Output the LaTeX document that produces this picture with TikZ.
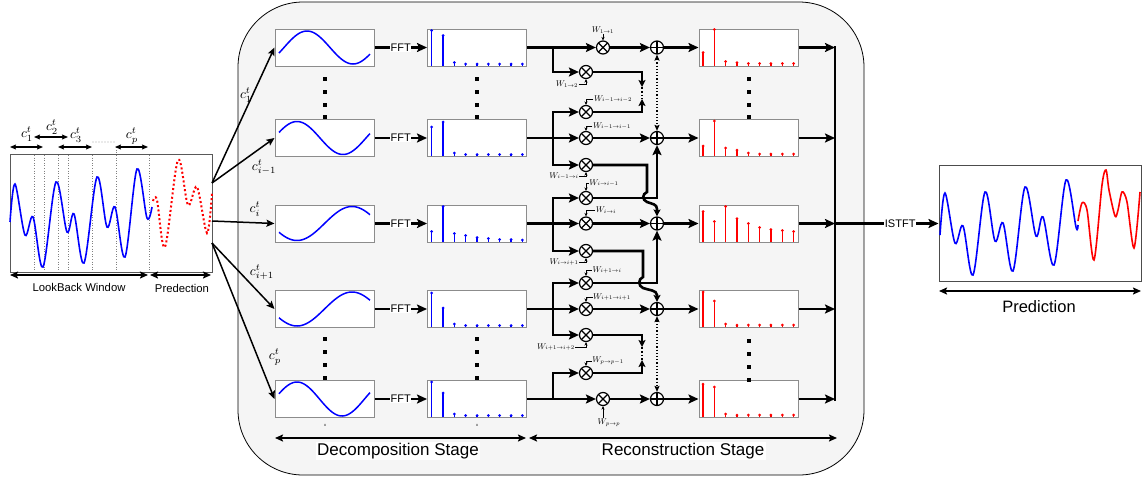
\documentclass[tikz,border=0pt]{standalone}
\usepackage{fontspec}
\setmainfont{Liberation Sans}
\usetikzlibrary{arrows.meta,calc}
\definecolor{bgc}{RGB}{245,245,245}
\definecolor{bxc}{RGB}{140,140,140}
\newcommand{\drawstems}[4]{\foreach \h [count=\k from 0] in {#4}{\draw[#1,line width=1.3pt] ({#2+11.33*\k},#3) -- ({#2+11.33*\k},{#3-\h}); \fill[#1] ({#2+11.33*\k},{#3-\h}) circle[radius=1.5pt];}}
\newcommand{\vdotcol}[2]{\foreach \yy in {#2}{\fill ({#1-1.6},{\yy-1.6}) rectangle ({#1+1.6},{\yy+1.6});}}
\begin{document}
\begin{tikzpicture}[x=1pt,y=-1pt,
  thk/.style={line width=2.6pt},
  thn/.style={line width=1.5pt},
  tip/.style={-{Stealth[length=10pt,width=9pt,inset=2pt]}},
  tips/.style={-{Stealth[length=7pt,width=7pt,inset=1.5pt]}},
  tipn/.style={-{Stealth[length=8pt,width=7pt,inset=1.5pt]}},
  dbl/.style={{Stealth[length=8pt,width=7pt,inset=1.5pt]}-{Stealth[length=8pt,width=7pt,inset=1.5pt]}},
  dbls/.style={{Stealth[length=6pt,width=5pt,inset=1pt]}-{Stealth[length=6pt,width=5pt,inset=1pt]}},
  wtip/.style={line width=0.7pt,-{Stealth[length=3.5pt,width=3.2pt]}},
  sbox/.style={draw=bxc, fill=white, line width=1pt, minimum width=99pt, minimum height=37pt, inner sep=0pt},
  otimes/.style={circle, draw, line width=1.2pt, fill=white, minimum size=13pt, inner sep=0pt,
    path picture={\draw[line width=1.2pt] (path picture bounding box.north west) -- (path picture bounding box.south east) (path picture bounding box.north east) -- (path picture bounding box.south west);}},
  oplus/.style={circle, draw, line width=1.2pt, fill=white, minimum size=13pt, inner sep=0pt,
    path picture={\draw[line width=1.2pt] (path picture bounding box.north) -- (path picture bounding box.south) (path picture bounding box.east) -- (path picture bounding box.west);}},
  wl/.style={font=\small, scale=0.93, inner sep=0.5pt},
  fftl/.style={fill=white, inner sep=0.6pt, font=\fontsize{11}{12}\selectfont},
  cl/.style={font=\normalsize, scale=1.35, inner sep=0pt},
  stl/.style={fill=white, inner sep=1.5pt, font=\fontsize{17}{20}\selectfont},
  sml/.style={font=\fontsize{11.3}{13}\selectfont, inner sep=0pt}
]
\useasboundingbox (0,0) rectangle (1146,483);

% container
\draw[fill=bgc, line width=0.8pt, rounded corners=65pt] (238,2) rectangle (864,475);

% ---------- input box ----------
\node[draw=black!65, line width=0.8pt, fill=white, minimum width=202pt, minimum height=118pt, inner sep=0pt] (inbox) at (111,213) {};
\foreach \x in {34,44,58,68,92,116,149} \draw[gray, dotted, line width=0.6pt] (\x,155) -- (\x,271);
\draw[gray, dotted, line width=0.6pt] (116,147) -- (116,155);
\draw[blue, line width=1.6pt] plot[smooth, tension=0.55] coordinates {(10,222) (15,184) (25,235) (33,217) (43,267) (56,182) (67,232) (74,214) (84,263) (97,177) (107,227) (115,207) (125,257) (137,169) (147,218) (152,207)};
\draw[red, line width=2pt, dash pattern=on 2pt off 2.4pt] plot[smooth, tension=0.55] coordinates {(153,201) (157,200) (165,247) (178,160) (188,205) (197,187) (207,233) (212,193)};

% brackets above
\draw[line width=1.1pt, dbls] (10,147) -- (43,147);
\draw[line width=1.1pt, dbls] (34,137) -- (68,137);
\draw[line width=1.1pt, dbls] (58,147) -- (92,147);
\draw[line width=1.1pt, dbls] (115,147) -- (148,147);
\foreach \x in {93,96,...,114} \fill (\x,142) circle[radius=0.45pt];
\node[cl] (c1) at (27,134) {$c_1^t$};
\node[cl] (c2) at (52,127) {$c_2^t$};
\node[cl] (c3) at (76,135) {$c_3^t$};
\node[cl] (cp) at (132,136) {$c_p^t$};

% brackets below
\draw[line width=1.8pt, dbl] (10,275) -- (148,275);
\draw[line width=1.8pt, dbl] (150,275) -- (211,275);
\node[sml] (lbw) at (79,287) {LookBack Window};
\node[sml] (prd) at (182,288) {Predection};

% ---------- decomposition ----------
\foreach \n/\y in {1/47.5,2/138,3/223.5,4/309,5/399}{
  \node[sbox] (s\n) at (324.5,\y) {};
  \node[sbox] (f\n) at (477,\y) {};
  \node[sbox] (r\n) at (748.5,\y) {};
  \draw[thk,tip] (s\n.east) -- node[fftl] (fl\n) {FFT} (f\n.west);
}
% sine curves
\draw[blue, line width=1.5pt] plot[domain=279:370, samples=60] (\x, {47.5-16.5*sin((\x-284)/92*360)});
\draw[blue, line width=1.5pt] plot[domain=279:370, samples=60] (\x, {138-16.5*sin((\x-274)/92*360)});
\draw[blue, line width=1.5pt] plot[domain=279:370, samples=60] (\x, {223.5-17*sin((\x-324.5)/110*360)});
\draw[blue, line width=1.5pt] plot[domain=279:370, samples=60] (\x, {309-17*sin((\x-324.5)/110*360)});
\draw[blue, line width=1.5pt] plot[domain=279:370, samples=60] (\x, {399-17*sin((\x-274.5)/90*360)});

% FFT stems
\drawstems{blue}{431.7}{65.5}{35,30,3,1.5,1.5,1.5,1.5,1.5,1.5}
\drawstems{blue}{431.7}{156}{29,34,3,1.5,1.5,1.5,1.5,1.5,1.5}
\drawstems{blue}{431.7}{241.5}{10,35,8,6,4,3,2,2,1.5}
\drawstems{blue}{431.7}{327}{34,19,3,1.5,1.5,1.5,1.5,1.5,1.5}
\drawstems{blue}{431.7}{417}{35,24,3,1.5,1.5,1.5,1.5,1.5,1.5}
% red stems
\drawstems{red}{703}{65.5}{13,36,4,3,2,2,2,2,2}
\drawstems{red}{703}{156}{10,35,8,6,3,2,2,2,2}
\drawstems{red}{703}{241.5}{30,20,35,23,18,14,12,11,10}
\drawstems{red}{703}{327}{35,26,3,2,2,2,2,2,2}
\drawstems{red}{703}{417}{33,30,3,2,2,2,2,2,2}

% vertical dots
\vdotcol{325}{79,92,105,117}
\vdotcol{477}{79,92,105,117}
\vdotcol{749}{79,92,105,117}
\vdotcol{325}{339,352,365,378}
\vdotcol{477}{339,352,365,378}
\vdotcol{749}{341,354,367,380}
\node[font=\fontsize{4}{4}\selectfont, inner sep=0pt] (xs) at (325,425) {x};
\node[font=\fontsize{4}{4}\selectfont, inner sep=0pt] (xf) at (477,425) {x};

% input arrows
\coordinate (o1) at (212,183);
\coordinate (o2) at (212,221);
\coordinate (o3) at (212,243);
\draw[thn, tipn] (o1) -- (s1.west);
\draw[thn, tipn] (o1) -- (s2.west);
\draw[thn, tipn] (o2) -- (s3.west);
\draw[thn, tipn] (o3) -- (s4.west);
\draw[thn, tipn] (o3) -- (s5.west);
\node[cl] (lc1) at (246,95) {$c_1^t$};
\node[cl] (lc2) at (264,167) {$c_{i-1}^t$};
\node[cl] (lc3) at (255,209) {$c_i^t$};
\node[cl] (lc4) at (262,272) {$c_{i+1}^t$};
\node[cl] (lc5) at (275,357) {$c_p^t$};

% ---------- reconstruction ----------
\node[otimes] (m11) at (603,47.5) {};
\node[otimes] (m12) at (586,72) {};
\node[otimes] (m21) at (586,112) {};
\node[otimes] (m22) at (586,138) {};
\node[otimes] (m23) at (586,165) {};
\node[otimes] (m32) at (586,198) {};
\node[otimes] (m33) at (586,223.5) {};
\node[otimes] (m34) at (586,251) {};
\node[otimes] (m43) at (586,283) {};
\node[otimes] (m44) at (586,309) {};
\node[otimes] (m45) at (586,335) {};
\node[otimes] (m54) at (586,373) {};
\node[otimes] (m55) at (603,399) {};
\foreach \n/\y in {1/47.5,2/138,3/223.5,4/309,5/399}{
  \node[oplus] (a\n) at (657,\y) {};
  \coordinate (j\n) at (553,\y);
  \coordinate (bus\n) at (835,\y);
}
\coordinate (d1a) at (642,87);
\coordinate (d1b) at (642,99);
\coordinate (d2a) at (642,347);
\coordinate (d2b) at (642,360);

% main rows
\draw[thk,tip] (f1.east) -- (m11.west);
\draw[thk,tip] (m11.east) -- (a1.west);
\draw[thk,tip] (f2.east) -- (m22.west);
\draw[thk,tip] (m22.east) -- (a2.west);
\draw[thk,tip] (f3.east) -- (m33.west);
\draw[thk,tip] (m33.east) -- (a3.west);
\draw[thk,tip] (f4.east) -- (m44.west);
\draw[thk,tip] (m44.east) -- (a4.west);
\draw[thk,tip] (f5.east) -- (m55.west);
\draw[thk,tip] (m55.east) -- (a5.west);
\foreach \n in {1,...,5}{
  \draw[thk,tip] (a\n.east) -- (r\n.west);
  \draw[thk,tip] (r\n.east) -- (bus\n);
}
% branches
\draw[thk,tip] (j1) |- (m12.west);
\draw[thk,tip] (j2) |- (m21.west);
\draw[thk,tip] (j2) |- (m23.west);
\draw[thk,tip] (j3) |- (m32.west);
\draw[thk,tip] (j3) |- (m34.west);
\draw[thk,tip] (j4) |- (m43.west);
\draw[thk,tip] (j4) |- (m45.west);
\draw[thk,tip] (j5) |- (m54.west);
% cross links
\draw[thk,tips] (m12.east) -| (d1a);
\draw[thk,tips] (m21.east) -| (d1b);
\draw[line width=1.8pt, dotted] (d1a) -- (d1b);
\draw[thk,tips] (m45.east) -| (d2a);
\draw[thk,tips] (m54.east) -| (d2b);
\draw[line width=1.8pt, dotted] (d2a) -- (d2b);
\draw[thk,tip] (m32.east) -| (a2.south);
\draw[thk,tip] (m43.east) -| (a3.south);
\draw[thk,tips] (m23.east) -- (647,165) -- (647,192) .. controls (642,194) and (642,200) .. (647,202) .. controls (652,204) and (657,204) .. (657,209) -- (a3.north);
\draw[thk,tips] (m34.east) -- (643,251) -- (643,277) .. controls (638,279) and (638,286) .. (643,288) .. controls (648,290) and (657,290) .. (657,295) -- (a4.north);
\draw[line width=1.2pt, dotted, dbls] (a1.south) -- (a2.north);
\draw[line width=1.2pt, dotted, dbls] (a4.south) -- (a5.north);

% weight labels
\node[wl] (L11) at (603,30) {$W_{1\rightarrow 1}$};
\draw[wtip] (L11.south) -- (m11.north);
\node[wl] (L12) at (567,84) {$W_{1\rightarrow 2}$};
\draw[wtip] (L12.east) -| (m12.south);
\node[wl] (L21) at (613,99) {$W_{i-1\rightarrow i-2}$};
\draw[wtip] (L21.west) -| (m21.north);
\node[wl] (L22) at (612,126) {$W_{i-1\rightarrow i-1}$};
\draw[wtip] (L22.west) -| (m22.north);
\node[wl] (L23) at (564,176) {$W_{i-1\rightarrow i}$};
\draw[wtip] (L23.east) -| (m23.south);
\node[wl] (L32) at (604,183) {$W_{i\rightarrow i-1}$};
\draw[wtip] (L32.west) -| (m32.north);
\node[wl] (L33) at (606,210) {$W_{i\rightarrow i}$};
\draw[wtip] (L33.west) -| (m33.north);
\node[wl] (L34) at (564,262) {$W_{i\rightarrow i+1}$};
\draw[wtip] (L34.east) -| (m34.south);
\node[wl] (L43) at (607,270) {$W_{i+1\rightarrow i}$};
\draw[wtip] (L43.west) -| (m43.north);
\node[wl] (L44) at (612,297) {$W_{i+1\rightarrow i+1}$};
\draw[wtip] (L44.west) -| (m44.north);
\node[wl] (L45) at (556,347) {$W_{i+1\rightarrow i+2}$};
\draw[wtip] (L45.east) -| (m45.south);
\node[wl] (L54) at (608,361) {$W_{p\rightarrow p-1}$};
\draw[wtip] (L54.west) -| (m54.north);
\node[wl] (L55) at (609,423) {$W_{p\rightarrow p}$};
\draw[wtip] (L55.north -| m55) -- (m55.south);

% bus and output
\draw[thk] (835,46) -- (835,400.5);
\node[draw=black!70, line width=1pt, fill=white, minimum width=202pt, minimum height=116pt, inner sep=0pt] (pred) at (1040,223.5) {};
\draw[thk,tip] (bus3) -- node[fftl, pos=0.63] (istft) {ISTFT} (pred.west);
\draw[blue, line width=1.6pt] plot[smooth, tension=0.55] coordinates {(940,235) (945,193) (955,243) (963,226) (973,275) (985,192) (995,241) (1003,223) (1013,271) (1025,187) (1036,236) (1043,217) (1054,265) (1066,180) (1076,227) (1078,225)};
\draw[red, line width=1.6pt] plot[smooth, tension=0.5] coordinates {(1078,221) (1082,203) (1087,210) (1094,260) (1102,185) (1106,170) (1109,190) (1115,216) (1118,210) (1122,192) (1127,202) (1134,248) (1140,192)};
\draw[line width=2pt, dbl] (939,291) -- (1141,291);
\node[font=\fontsize{16.5}{19}\selectfont, inner sep=0pt] (predlbl) at (1039,307) {Prediction};

% stage arrows
\draw[line width=2.4pt, dbl] (275,438) -- (526,438);
\draw[line width=2.4pt, dbl] (529,438) -- (837,438);
\node[stl] (dstage) at (398,451) {Decomposition Stage};
\node[stl] (rstage) at (683,451) {Reconstruction Stage};
\end{tikzpicture}
\end{document}
